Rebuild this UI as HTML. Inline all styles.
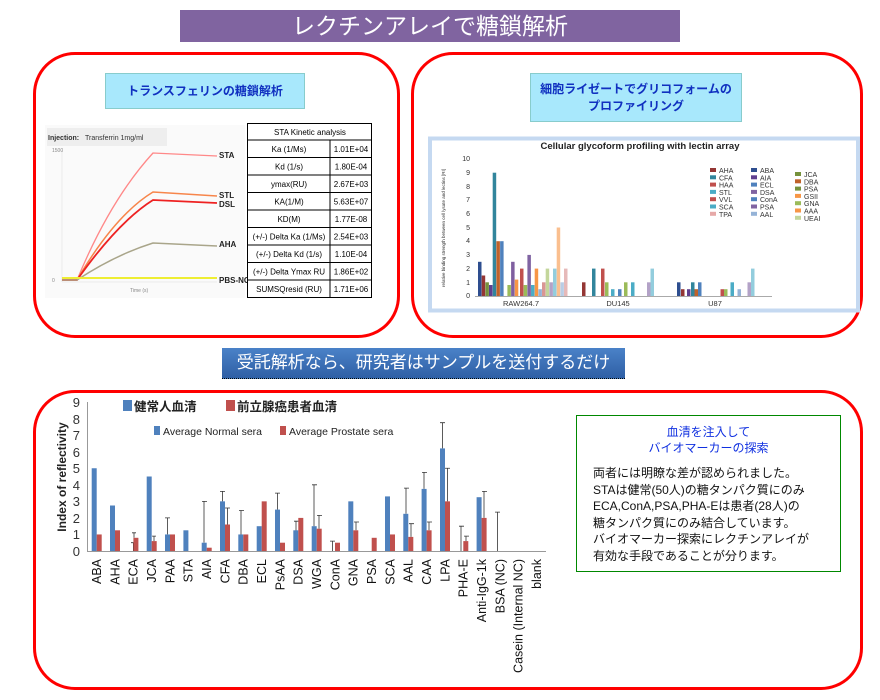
<!DOCTYPE html>
<html><head><meta charset="utf-8"><style>
body{margin:0;width:880px;height:700px;background:#fff;position:relative;overflow:hidden;font-family:"Liberation Sans","Noto Sans CJK JP",sans-serif}
.a{position:absolute}
.box{position:absolute;border:3px solid #f00;border-radius:42px;box-sizing:border-box}
</style></head><body>
<div class="a" style="left:180px;top:10px;width:500px;height:32px;background:#8064a0;color:#fff;font-size:23px;text-align:center;line-height:32px">レクチンアレイで糖鎖解析</div>

<div class="box" style="left:33px;top:52px;width:367px;height:286px"></div>
<div class="box" style="left:411px;top:52px;width:452px;height:286px"></div>
<div class="box" style="left:33px;top:390px;width:830px;height:300px"></div>

<div class="a" style="left:105px;top:73px;width:198px;height:34px;background:#a8e8fc;border:1px solid #8cc;color:#1030c0;font-size:12px;font-weight:bold;line-height:34px;text-align:center">トランスフェリンの糖鎖解析</div>
<div class="a" style="left:530px;top:73px;width:212px;height:49px;background:#a8e8fc;border:1px solid #8cc;color:#1030c0;font-size:12px;font-weight:bold;line-height:17px;text-align:center;padding-top:7px;box-sizing:border-box">細胞ライゼートでグリコフォームの<br>プロファイリング</div>

<!-- left chart -->
<svg class="a" style="left:45px;top:123px" width="330" height="177" viewBox="45 123 330 177">
<rect x="45" y="125" width="200" height="173" fill="#fafafa"/>
<rect x="47" y="128" width="120" height="18" fill="#eee"/>
<text x="48" y="140" font-size="7" font-weight="bold" fill="#333">Injection:</text>
<text x="85" y="140" font-size="7" fill="#333">Transferrin 1mg/ml</text>
<g stroke="#ddd" stroke-width="0.5"><line x1="62" y1="150" x2="62" y2="282"/><line x1="62" y1="282" x2="217" y2="282"/></g>
<path d="M62 280 L77 280 Q110 200 153 153 L217 156" fill="none" stroke="#f88" stroke-width="1.3"/>
<path d="M62 280 L77 280 Q115 215 153 192 L217 196" fill="none" stroke="#f7854a" stroke-width="1.5"/>
<path d="M62 280 L77 280 Q118 222 153 200 L217 203" fill="none" stroke="#e22" stroke-width="1.8"/>
<path d="M62 280 L77 280 Q115 255 153 243 L217 246" fill="none" stroke="#a9a58a" stroke-width="1.5"/>
<path d="M62 278 L217 278" fill="none" stroke="#ee3" stroke-width="2"/>
<g font-size="8" font-weight="bold" fill="#222"><text x="219" y="158">STA</text><text x="219" y="198">STL</text><text x="219" y="207">DSL</text><text x="219" y="247">AHA</text><text x="219" y="283">PBS-NC</text></g>
<g font-size="5" fill="#888"><text x="52" y="282">0</text><text x="52" y="152">1500</text><text x="130" y="292">Time (s)</text></g>
<rect x="247.5" y="123.5" width="124" height="174" fill="#fff" stroke="#000"/>
<g stroke="#000" stroke-width="1"><line x1="247" y1="140" x2="372" y2="140"/><line x1="247" y1="157.5" x2="372" y2="157.5"/><line x1="247" y1="175" x2="372" y2="175"/><line x1="247" y1="192.5" x2="372" y2="192.5"/><line x1="247" y1="210" x2="372" y2="210"/><line x1="247" y1="227.5" x2="372" y2="227.5"/><line x1="247" y1="245" x2="372" y2="245"/><line x1="247" y1="262.5" x2="372" y2="262.5"/><line x1="247" y1="280" x2="372" y2="280"/><line x1="330" y1="140" x2="330" y2="298"/></g>
<g font-size="8" fill="#000" text-anchor="middle"><text x="310" y="135">STA Kinetic analysis</text>
<text x="289" y="152">Ka (1/Ms)</text><text x="289" y="169.5">Kd (1/s)</text><text x="289" y="187">ymax(RU)</text><text x="289" y="204.5">KA(1/M)</text><text x="289" y="222">KD(M)</text><text x="289" y="239.5">(+/-) Delta Ka (1/Ms)</text><text x="289" y="257">(+/-) Delta Kd (1/s)</text><text x="289" y="274.5">(+/-) Delta Ymax RU</text><text x="289" y="292">SUMSQresid (RU)</text>
<text x="351" y="152">1.01E+04</text><text x="351" y="169.5">1.80E-04</text><text x="351" y="187">2.67E+03</text><text x="351" y="204.5">5.63E+07</text><text x="351" y="222">1.77E-08</text><text x="351" y="239.5">2.54E+03</text><text x="351" y="257">1.10E-04</text><text x="351" y="274.5">1.86E+02</text><text x="351" y="292">1.71E+06</text></g>
</svg>

<!-- right chart -->
<svg class="a" style="left:428px;top:136px" width="432" height="178" viewBox="428 136 432 178">
<rect x="430" y="138.5" width="428" height="172" fill="#fff" stroke="#c5d9f1" stroke-width="4"/>
<text x="640" y="149" font-size="9.5" font-weight="bold" text-anchor="middle" fill="#222">Cellular glycoform profiling with lectin array</text>
<g font-size="7" fill="#333" text-anchor="end"><text x="470" y="298">0</text><text x="470" y="285">1</text><text x="470" y="271">2</text><text x="470" y="257">3</text><text x="470" y="243">4</text><text x="470" y="230">5</text><text x="470" y="216">6</text><text x="470" y="202">7</text><text x="470" y="189">8</text><text x="470" y="175">9</text><text x="470" y="161">10</text></g>
<text transform="translate(445,228) rotate(-90)" font-size="4.5" text-anchor="middle" fill="#333">relative binding strength between cell lysate and lectins [RI]</text>
<line x1="475" y1="296.5" x2="772" y2="296.5" stroke="#aaa"/>
<g>
<rect x="478" y="261.8" width="3.5" height="34.2" fill="#2e4e8f"/><rect x="481.7" y="275.5" width="3.5" height="20.5" fill="#943634"/><rect x="485.4" y="282.3" width="3.5" height="13.7" fill="#76923c"/><rect x="489" y="285" width="3.5" height="11" fill="#5f3f8f"/><rect x="492.7" y="172.7" width="3.5" height="123.3" fill="#31859c"/><rect x="496.4" y="241.2" width="3.5" height="54.8" fill="#c0622a"/><rect x="500.1" y="241.2" width="3.5" height="54.8" fill="#4f81bd"/><rect x="507.4" y="285" width="3.5" height="11" fill="#9bbb59"/><rect x="511.1" y="261.8" width="3.5" height="34.2" fill="#7f5fa0"/><rect x="514.8" y="279.6" width="3.5" height="16.4" fill="#f79646"/><rect x="520" y="268.6" width="3.5" height="27.4" fill="#c0504d"/><rect x="523.7" y="285" width="3.5" height="11" fill="#9bbb59"/><rect x="527.4" y="254.9" width="3.5" height="41.1" fill="#8064a2"/><rect x="531" y="285" width="3.5" height="11" fill="#4bacc6"/><rect x="534.7" y="268.6" width="3.5" height="27.4" fill="#f79646"/><rect x="538.4" y="289.2" width="3.5" height="6.8" fill="#95b3d7"/><rect x="542" y="282.3" width="3.5" height="13.7" fill="#d99694"/><rect x="545.7" y="268.6" width="3.5" height="27.4" fill="#c3d69b"/><rect x="549.4" y="282.3" width="3.5" height="13.7" fill="#b3a2c7"/><rect x="553" y="268.6" width="3.5" height="27.4" fill="#93cddd"/><rect x="556.7" y="227.5" width="3.5" height="68.5" fill="#fabf8f"/><rect x="560.4" y="282.3" width="3.5" height="13.7" fill="#b9cde5"/><rect x="564" y="268.6" width="3.5" height="27.4" fill="#e6b9b8"/>
<rect x="582" y="282.3" width="3.5" height="13.7" fill="#943634"/><rect x="592" y="268.6" width="3.5" height="27.4" fill="#31859c"/><rect x="601" y="268.6" width="3.5" height="27.4" fill="#c0504d"/><rect x="605" y="282.3" width="3.5" height="13.7" fill="#9bbb59"/><rect x="611" y="289.2" width="3.5" height="6.8" fill="#4bacc6"/><rect x="618" y="289.2" width="3.5" height="6.8" fill="#4f81bd"/><rect x="624" y="282.3" width="3.5" height="13.7" fill="#9bbb59"/><rect x="631" y="282.3" width="3.5" height="13.7" fill="#4bacc6"/><rect x="647" y="282.3" width="3.5" height="13.7" fill="#b3a2c7"/><rect x="650.5" y="268.6" width="3.5" height="27.4" fill="#93cddd"/>
<rect x="677" y="282.3" width="3.5" height="13.7" fill="#2e4e8f"/><rect x="681" y="289.2" width="3.5" height="6.8" fill="#943634"/><rect x="687" y="289.2" width="3.5" height="6.8" fill="#5f3f8f"/><rect x="691" y="282.3" width="3.5" height="13.7" fill="#31859c"/><rect x="694.5" y="289.2" width="3.5" height="6.8" fill="#c0622a"/><rect x="698" y="282.3" width="3.5" height="13.7" fill="#4f81bd"/><rect x="720.5" y="289.2" width="3.5" height="6.8" fill="#c0504d"/><rect x="724" y="289.2" width="3.5" height="6.8" fill="#9bbb59"/><rect x="730.5" y="282.3" width="3.5" height="13.7" fill="#4bacc6"/><rect x="737.5" y="289.2" width="3.5" height="6.8" fill="#95b3d7"/><rect x="747.5" y="282.3" width="3.5" height="13.7" fill="#b3a2c7"/><rect x="751" y="268.6" width="3.5" height="27.4" fill="#93cddd"/>
</g>
<g font-size="7.5" fill="#333" text-anchor="middle"><text x="521" y="306">RAW264.7</text><text x="618" y="306">DU145</text><text x="715" y="306">U87</text></g>
<g font-size="7" fill="#333">
<rect x="710" y="168" width="6" height="4" fill="#943634"/><text x="719" y="173">AHA</text>
<rect x="710" y="175.3" width="6" height="4" fill="#31859c"/><text x="719" y="180.3">CFA</text>
<rect x="710" y="182.6" width="6" height="4" fill="#c0504d"/><text x="719" y="187.6">HAA</text>
<rect x="710" y="189.9" width="6" height="4" fill="#4bacc6"/><text x="719" y="194.9">STL</text>
<rect x="710" y="197.2" width="6" height="4" fill="#c0504d"/><text x="719" y="202.2">VVL</text>
<rect x="710" y="204.5" width="6" height="4" fill="#4bacc6"/><text x="719" y="209.5">SCA</text>
<rect x="710" y="211.8" width="6" height="4" fill="#e6a9a8"/><text x="719" y="216.8">TPA</text>
<rect x="751" y="168" width="6" height="4" fill="#2e4e8f"/><text x="760" y="173">ABA</text>
<rect x="751" y="175.3" width="6" height="4" fill="#5f3f8f"/><text x="760" y="180.3">AIA</text>
<rect x="751" y="182.6" width="6" height="4" fill="#4f81bd"/><text x="760" y="187.6">ECL</text>
<rect x="751" y="189.9" width="6" height="4" fill="#8064a2"/><text x="760" y="194.9">DSA</text>
<rect x="751" y="197.2" width="6" height="4" fill="#4f81bd"/><text x="760" y="202.2">ConA</text>
<rect x="751" y="204.5" width="6" height="4" fill="#8064a2"/><text x="760" y="209.5">PSA</text>
<rect x="751" y="211.8" width="6" height="4" fill="#95b3d7"/><text x="760" y="216.8">AAL</text>
<rect x="795" y="172" width="6" height="4" fill="#76923c"/><text x="804" y="177">JCA</text>
<rect x="795" y="179.3" width="6" height="4" fill="#c0622a"/><text x="804" y="184.3">DBA</text>
<rect x="795" y="186.6" width="6" height="4" fill="#76923c"/><text x="804" y="191.6">PSA</text>
<rect x="795" y="193.9" width="6" height="4" fill="#f79646"/><text x="804" y="198.9">GSII</text>
<rect x="795" y="201.2" width="6" height="4" fill="#9bbb59"/><text x="804" y="206.2">GNA</text>
<rect x="795" y="208.5" width="6" height="4" fill="#f79646"/><text x="804" y="213.5">AAA</text>
<rect x="795" y="215.8" width="6" height="4" fill="#c3d69b"/><text x="804" y="220.8">UEAI</text>
</g>
</svg>

<div class="a" style="left:222px;top:348px;width:403px;height:30px;background:linear-gradient(#4a82c8,#2f5fa5);border-bottom:1px dotted #000;color:#fff;font-size:17px;line-height:30px;text-align:center">受託解析なら、研究者はサンプルを送付するだけ</div>

<!-- bottom chart -->
<svg class="a" style="left:40px;top:395px" width="520" height="290" viewBox="40 395 520 290">
<g font-size="13" fill="#333" text-anchor="end"><text x="80" y="556">0</text><text x="80" y="539">1</text><text x="80" y="523">2</text><text x="80" y="506">3</text><text x="80" y="490">4</text><text x="80" y="473">5</text><text x="80" y="457">6</text><text x="80" y="440">7</text><text x="80" y="424">8</text><text x="80" y="407">9</text></g>
<text transform="translate(66,477) rotate(-90)" font-size="12" font-weight="bold" text-anchor="middle" fill="#222">Index of reflectivity</text>
<line x1="87.5" y1="402" x2="87.5" y2="551" stroke="#999"/>
<line x1="87" y1="551.5" x2="546" y2="551.5" stroke="#999"/>
<rect x="123" y="400" width="9" height="11" fill="#4f81bd"/><text x="134" y="411" font-size="12.5" font-weight="bold" fill="#222">健常人血清</text>
<rect x="226" y="400" width="9" height="11" fill="#c0504d"/><text x="237" y="411" font-size="12.5" font-weight="bold" fill="#222">前立腺癌患者血清</text>
<rect x="154" y="426" width="6" height="9" fill="#4f81bd"/><text x="163" y="435" font-size="10.5" fill="#222">Average Normal sera</text>
<rect x="280" y="426" width="6" height="9" fill="#c0504d"/><text x="289" y="435" font-size="10.5" fill="#222">Average Prostate sera</text>
<g stroke="#333" stroke-width="0.8" fill="none">
<path d="M113 522V530.3M111 522h4M133.4 542.7V551M131 542.7h4M134 532.8v5M132 532.8h4M154 536.1v5M152 536.1h4M167.5 517.9v16.5M165 517.9h5M204 501.35v41.3M202 501.35h5M222.5 491.4v10M220 491.4h5M227.5 508v16.5M225 508h5M241 510.5v24M239 510.5h5M277.5 493.1v16.5M275 493.1h5M296 521.2v9.8M294 521.2h5M314 484.8v41.4M312 484.8h5M319 515.4v13.3M317 515.4h5M332.5 541.1V551M330 541.1h5M356 522v8.3M354 522h5M406 488.1v25.7M404 488.1h5M411 523.7v13.2M409 523.7h5M424 472.4v16.5M422 472.4h5M429 522v8.3M427 522h5M442.5 422.7v25.7M440 422.7h5M447.5 468.25v33.1M445 468.25h5M461 526.2V551M459 526.2h5M466 536.1v5M464 536.1h5M484 491.4v26.5M482 491.4h5M497.5 512.1V551M495 512.1h5"/>
</g>
<g fill="#4f81bd">
<rect x="91.7" y="468.25" width="5" height="82.75"/><rect x="110" y="505.5" width="5" height="45.5"/><rect x="146.7" y="476.5" width="5" height="74.5"/><rect x="165" y="534.45" width="5" height="16.55"/><rect x="183.4" y="530.3" width="5" height="20.7"/><rect x="201.7" y="542.7" width="5" height="8.3"/><rect x="220" y="501.35" width="5" height="49.65"/><rect x="238.3" y="534.45" width="5" height="16.55"/><rect x="256.7" y="526.2" width="5" height="24.8"/><rect x="275" y="509.6" width="5" height="41.4"/><rect x="293.3" y="530.3" width="5" height="20.7"/><rect x="311.7" y="526.2" width="5" height="24.8"/><rect x="348.3" y="501.35" width="5" height="49.65"/><rect x="385" y="496.4" width="5" height="54.6"/><rect x="403.3" y="513.8" width="5" height="37.2"/><rect x="421.6" y="488.9" width="5" height="62.1"/><rect x="440" y="448.4" width="5" height="102.6"/><rect x="476.6" y="497.2" width="5" height="53.8"/>
</g>
<g fill="#c0504d">
<rect x="96.7" y="534.45" width="5" height="16.55"/><rect x="115" y="530.3" width="5" height="20.7"/><rect x="133.4" y="537.8" width="5" height="13.2"/><rect x="151.7" y="541.1" width="5" height="9.9"/><rect x="170" y="534.45" width="5" height="16.55"/><rect x="206.7" y="547.7" width="5" height="3.3"/><rect x="225" y="524.5" width="5" height="26.5"/><rect x="243.3" y="534.45" width="5" height="16.55"/><rect x="261.7" y="501.35" width="5" height="49.65"/><rect x="280" y="542.7" width="5" height="8.3"/><rect x="298.3" y="517.9" width="5" height="33.1"/><rect x="316.7" y="528.7" width="5" height="22.3"/><rect x="335" y="542.7" width="5" height="8.3"/><rect x="353.3" y="530.3" width="5" height="20.7"/><rect x="371.7" y="537.8" width="5" height="13.2"/><rect x="390" y="534.45" width="5" height="16.55"/><rect x="408.3" y="536.9" width="5" height="14.1"/><rect x="426.6" y="530.3" width="5" height="20.7"/><rect x="445" y="501.35" width="5" height="49.65"/><rect x="463.3" y="541.1" width="5" height="9.9"/><rect x="481.6" y="517.9" width="5" height="33.1"/>
</g>
<g font-size="12.5" fill="#111" text-anchor="end">
<text transform="translate(101,559) rotate(-90)">ABA</text><text transform="translate(119.3,559) rotate(-90)">AHA</text><text transform="translate(137.7,559) rotate(-90)">ECA</text><text transform="translate(156,559) rotate(-90)">JCA</text><text transform="translate(174.3,559) rotate(-90)">PAA</text><text transform="translate(192.7,559) rotate(-90)">STA</text><text transform="translate(211,559) rotate(-90)">AIA</text><text transform="translate(229.3,559) rotate(-90)">CFA</text><text transform="translate(247.6,559) rotate(-90)">DBA</text><text transform="translate(266,559) rotate(-90)">ECL</text><text transform="translate(284.3,559) rotate(-90)">PsAA</text><text transform="translate(302.6,559) rotate(-90)">DSA</text><text transform="translate(321,559) rotate(-90)">WGA</text><text transform="translate(339.3,559) rotate(-90)">ConA</text><text transform="translate(357.6,559) rotate(-90)">GNA</text><text transform="translate(376,559) rotate(-90)">PSA</text><text transform="translate(394.3,559) rotate(-90)">SCA</text><text transform="translate(412.6,559) rotate(-90)">AAL</text><text transform="translate(430.9,559) rotate(-90)">CAA</text><text transform="translate(449.3,559) rotate(-90)">LPA</text><text transform="translate(467.6,559) rotate(-90)">PHA-E</text><text transform="translate(485.9,559) rotate(-90)">Anti-IgG-1k</text><text transform="translate(504.3,559) rotate(-90)">BSA (NC)</text><text transform="translate(522.6,559) rotate(-90)">Casein (Internal NC)</text><text transform="translate(540.9,559) rotate(-90)">blank</text>
</g>
</svg>

<div class="a" style="left:576px;top:415px;width:265px;height:157px;border:1px solid #080;box-sizing:border-box;background:#fff">
<div style="color:#1030e0;font-size:12px;text-align:center;line-height:16px;margin-top:8px">血清を注入して<br>バイオマーカーの探索</div>
<div style="color:#111;font-size:12px;line-height:16.5px;margin:9px 0 0 16px;white-space:nowrap">両者には明瞭な差が認められました。<br>STAは健常(50人)の糖タンパク質にのみ<br>ECA,ConA,PSA,PHA-Eは患者(28人)の<br>糖タンパク質にのみ結合しています。<br>バイオマーカー探索にレクチンアレイが<br>有効な手段であることが分ります。</div>
</div>
</body></html>
